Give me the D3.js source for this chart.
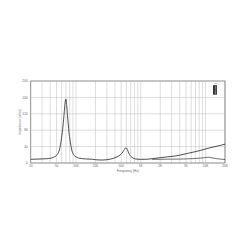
<!DOCTYPE html>
<html>
<head>
<meta charset="utf-8">
<script src="https://cdn.jsdelivr.net/npm/d3@7"></script>
<style>
  body { margin: 0; background: #fff; }
  svg { display: block; font-family: "Liberation Sans", Arial, sans-serif; }
</style>
</head>
<body>
<div id="chart"></div>
<script>
// impedance curve
const freqs = [20, 25, 30, 35, 40, 45, 51, 57, 60, 63, 66, 68, 70, 72, 74, 76, 78, 81, 86, 96, 115, 140, 180, 220, 260, 300, 340, 380, 430, 480, 530, 560, 590, 620, 650, 690, 730, 820, 1000, 1200, 1500, 2000, 2600, 3400, 4500, 5500, 6900, 8500, 11000, 14000, 17000, 20000];
const impedance = [9, 9.5, 10, 10.5, 11.5, 14, 20, 40, 62, 90, 125, 148, 156, 140, 115, 95, 75, 56, 32, 17, 11.5, 10, 9, 7.5, 7.3, 8, 9.5, 11.5, 15, 19.5, 27, 33, 37, 33, 25, 18, 14, 10, 9, 9, 10.5, 13, 15, 17, 21, 24, 27.5, 31, 36, 40, 43, 46];
// lower trace at high frequencies
const freqs2 = [1500, 2000, 3000, 4000, 5000, 7000, 9000, 11000, 13000, 15000, 17000, 20000];
const impedance2 = [9, 9, 9.5, 9.5, 10, 11, 12.5, 14, 12, 10.5, 9.5, 8.5];

const xTicks = [20, 50, 100, 200, 500, 1000, 2000, 5000, 10000, 20000];
const xTickLabels = ["20", "50", "100", "200", "500", "1K", "2K", "5K", "10K", "20K"];
const yTicks = [0, 40, 80, 120, 160, 200];

const width = 250, height = 250;
const m = {left: 30.7, right: 225, top: 81, bottom: 163};

const svg = d3.select("#chart").append("svg")
  .attr("width", width)
  .attr("height", height);

svg.append("rect").attr("width", width).attr("height", height).attr("fill", "#fff");

const x = d3.scaleLog().domain([20, 20000]).range([m.left, m.right]);
const y = d3.scaleLinear().domain([0, 200]).range([m.bottom, m.top]);

// vertical grid on every log step
const minor = [];
for (let dec = 10; dec <= 10000; dec *= 10) {
  for (let k = 1; k <= 9; k++) {
    const f = dec * k;
    if (f >= 20 && f <= 20000) minor.push(f);
  }
}
minor.push(20000);

svg.append("g").selectAll("line").data(minor).join("line")
  .attr("x1", d => x(d)).attr("x2", d => x(d))
  .attr("y1", m.top).attr("y2", m.bottom)
  .attr("stroke", "#c8c8c8").attr("stroke-width", 0.6);

svg.append("g").selectAll("line").data(yTicks).join("line")
  .attr("x1", m.left).attr("x2", m.right)
  .attr("y1", d => y(d)).attr("y2", d => y(d))
  .attr("stroke", "#c8c8c8").attr("stroke-width", 0.6);

// frame
svg.append("rect")
  .attr("x", m.left).attr("y", m.top)
  .attr("width", m.right - m.left).attr("height", m.bottom - m.top)
  .attr("fill", "none").attr("stroke", "#888").attr("stroke-width", 0.8);

// tick labels
svg.append("g").selectAll("text").data(xTicks).join("text")
  .attr("x", d => x(d)).attr("y", 167)
  .attr("text-anchor", "middle")
  .attr("font-size", 3.2).attr("fill", "#666")
  .text((d, i) => xTickLabels[i]);

svg.append("g").selectAll("text").data(yTicks).join("text")
  .attr("x", m.left - 3).attr("y", d => y(d) + 1.1)
  .attr("text-anchor", "end")
  .attr("font-size", 3.2).attr("fill", "#666")
  .text(d => d);

svg.append("text")
  .attr("x", (m.left + m.right) / 2).attr("y", 172)
  .attr("text-anchor", "middle")
  .attr("font-size", 3.2).attr("fill", "#666")
  .text("Frequency (Hz)");

svg.append("text")
  .attr("transform", `translate(21,${(m.top + m.bottom) / 2}) rotate(-90)`)
  .attr("text-anchor", "middle")
  .attr("font-size", 3.2).attr("fill", "#666")
  .text("Impedance (ohm)");

// curves
const line = d3.line()
  .x(d => x(d[0])).y(d => y(d[1]))
  .curve(d3.curveMonotoneX);

svg.append("path")
  .attr("d", line(d3.zip(freqs2, impedance2)))
  .attr("fill", "none").attr("stroke", "#333").attr("stroke-width", 0.7);

svg.append("path")
  .attr("d", line(d3.zip(freqs, impedance)))
  .attr("fill", "none").attr("stroke", "#222").attr("stroke-width", 0.8);

// small logo, top right
const logo = svg.append("g").attr("transform", "translate(214.5,83)");
logo.append("text").attr("x", 1).attr("y", 1)
  .attr("text-anchor", "middle").attr("font-size", 2.2).attr("fill", "#d33")
  .text("18");
logo.append("rect").attr("x", -1.5).attr("y", 2.2).attr("width", 4).attr("height", 9.5).attr("fill", "#333");
logo.append("text")
  .attr("transform", "translate(1.3,7) rotate(-90)")
  .attr("text-anchor", "middle").attr("font-size", 2.4).attr("fill", "#fff")
  .text("SOUND");
</script>
</body>
</html>
